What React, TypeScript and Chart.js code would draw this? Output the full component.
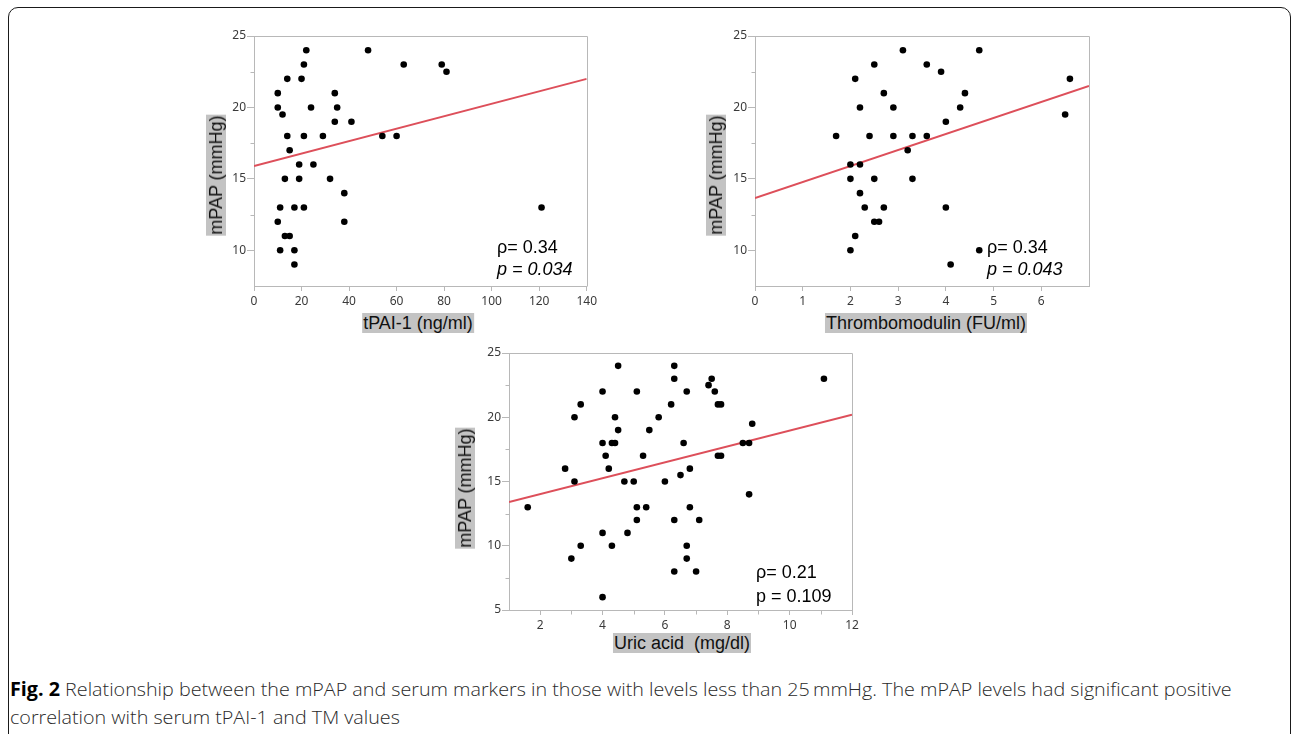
import React, { useEffect, useLayoutEffect, useRef, useState } from "react";
import { Chart, registerables } from "chart.js";

Chart.register(...registerables);

// ---------- data ----------
const mpapTicks = [10, 15, 20, 25];
const mpapMinor = [12.5, 17.5, 22.5];

const tpaiX = [10, 10, 12, 14, 14, 15, 10, 11, 11, 13, 13, 15, 17, 17, 17, 19, 19, 20, 21, 22, 21, 21, 24, 25, 29, 32, 34, 35, 34, 38, 38, 41, 48, 54, 60, 63, 79, 81, 121];
const tpaiY = [21, 20, 19.5, 22, 18, 17, 12, 13, 10, 15, 11, 11, 13, 10, 9, 16, 15, 22, 23, 24, 18, 13, 20, 16, 18, 15, 21, 20, 19, 14, 12, 19, 24, 18, 18, 23, 23, 22.5, 13];
const tpaiFitX = [0, 140];
const tpaiFitY = [15.9, 22.0];
const tpaiTicks = [0, 20, 40, 60, 80, 100, 120, 140];

const tmX = [1.7, 2.0, 2.0, 2.0, 2.1, 2.1, 2.2, 2.2, 2.2, 2.3, 2.4, 2.5, 2.5, 2.5, 2.6, 2.7, 2.7, 2.9, 2.9, 3.1, 3.2, 3.3, 3.3, 3.6, 3.6, 3.9, 4.0, 4.0, 4.1, 4.3, 4.4, 4.7, 4.7, 6.5, 6.6];
const tmY = [18, 16, 15, 10, 22, 11, 20, 16, 14, 13, 18, 23, 15, 12, 12, 21, 13, 20, 18, 24, 17, 18, 15, 23, 18, 22.5, 19, 13, 9, 20, 21, 24, 10, 19.5, 22];
const tmFitX = [0, 7];
const tmFitY = [13.65, 21.5];
const tmTicks = [0, 1, 2, 3, 4, 5, 6];

const uricX = [1.6, 2.8, 3.0, 3.1, 3.1, 3.3, 3.3, 4.0, 4.0, 4.0, 4.0, 4.1, 4.2, 4.3, 4.3, 4.4, 4.4, 4.5, 4.5, 4.7, 4.8, 5.0, 5.1, 5.1, 5.1, 5.3, 5.4, 5.5, 5.8, 6.0, 6.2, 6.3, 6.3, 6.3, 6.3, 6.5, 6.6, 6.7, 6.7, 6.7, 6.8, 6.8, 7.0, 7.1, 7.4, 7.5, 7.6, 7.7, 7.8, 7.7, 7.8, 8.5, 8.7, 8.7, 8.8, 11.1];
const uricY = [13, 16, 9, 20, 15, 21, 10, 22, 18, 11, 6, 17, 16, 18, 10, 20, 18, 24, 19, 15, 11, 15, 22, 13, 12, 17, 13, 19, 20, 15, 21, 24, 23, 12, 8, 15.5, 18, 22, 10, 9, 16, 13, 8, 12, 22.5, 23, 22, 21, 21, 17, 17, 18, 18, 14, 19.5, 23];
const uricFitX = [1, 12];
const uricFitY = [13.4, 20.2];
const uricTicks = [2, 4, 6, 8, 10, 12];
const uricMinorX = [3, 5, 7, 9, 11];
const uricYTicks = [5, 10, 15, 20, 25];
const uricMinorY = [7.5, 12.5, 17.5, 22.5];

const yTitle = "mPAP (mmHg)";
const captionBold = "Fig. 2";
const captionLine1 = " Relationship between the mPAP and serum markers in those with levels less than 25\u2009mmHg. The mPAP levels had significant positive";
const captionLine2 = "correlation with serum tPAI-1 and TM values";

// ---------- styles ----------
const AXIS = "#b8b8b8";
const RED = "#dd4f5a";
const TICK_FONT = { family: "'Noto Sans', 'Open Sans', sans-serif", size: 12 };
const TICK_COLOR = "#3a3a3a";
const TITLE_BG = "#c3c3c3";
const TEXT_FONT = "'Liberation Sans', Arial, sans-serif";

const framePlugin = {
  id: "frameMinor",
  afterDraw(chart: any, _args: any, opts: any) {
    const { ctx, chartArea } = chart;
    const { left, right, top, bottom } = chartArea;
    const a = (v: number) => Math.round(v) + 0.5;
    ctx.save();
    ctx.strokeStyle = AXIS;
    ctx.lineWidth = 1;
    ctx.beginPath();
    ctx.moveTo(a(left), a(top));
    ctx.lineTo(a(right), a(top));
    ctx.lineTo(a(right), a(bottom));
    const xs = chart.scales.x;
    const ys = chart.scales.y;
    (opts.minorX || []).forEach((v: number) => {
      const px = a(xs.getPixelForValue(v));
      ctx.moveTo(px, a(bottom));
      ctx.lineTo(px, a(bottom) + 4);
    });
    (opts.minorY || []).forEach((v: number) => {
      const py = a(ys.getPixelForValue(v));
      ctx.moveTo(a(left), py);
      ctx.lineTo(a(left) - 4, py);
    });
    ctx.stroke();
    ctx.restore();
  },
};

type PanelProps = {
  left: number;
  top: number;
  width: number;
  height: number;
  padTop: number;
  padRight: number;
  yAxisW: number;
  xAxisH: number;
  xs: number[];
  ys: number[];
  fitX: number[];
  fitY: number[];
  xMin: number;
  xMax: number;
  yMin: number;
  yMax: number;
  xTicks: number[];
  yTicks: number[];
  minorX: number[];
  minorY: number[];
};

function Panel(p: PanelProps) {
  const ref = useRef<HTMLCanvasElement>(null);
  useEffect(() => {
    if (!ref.current) return;
    const points = p.xs.map((x, i) => ({ x, y: p.ys[i] }));
    const fit = p.fitX.map((x, i) => ({ x, y: p.fitY[i] }));
    const chart = new Chart(ref.current, {
      type: "scatter",
      data: {
        datasets: [
          {
            data: fit,
            showLine: true,
            borderColor: RED,
            borderWidth: 2,
            pointRadius: 0,
            fill: false,
            order: 2,
          },
          {
            data: points,
            backgroundColor: "#000",
            borderColor: "#000",
            borderWidth: 0,
            pointRadius: 3.3,
            order: 1,
          },
        ],
      },
      options: {
        animation: false,
        responsive: false,
        devicePixelRatio: 1,
        events: [],
        layout: { padding: { top: p.padTop, right: p.padRight, left: 0, bottom: 0 } },
        plugins: {
          legend: { display: false },
          tooltip: { enabled: false },
          frameMinor: { minorX: p.minorX, minorY: p.minorY },
        } as any,
        scales: {
          x: {
            type: "linear",
            min: p.xMin,
            max: p.xMax,
            afterBuildTicks: (s: any) => {
              s.ticks = p.xTicks.map((v) => ({ value: v }));
            },
            afterFit: (s: any) => {
              s.height = p.xAxisH;
            },
            grid: { display: true, drawOnChartArea: false, drawTicks: true, tickLength: 5, color: AXIS },
            border: { display: true, color: AXIS, width: 1 },
            ticks: { font: TICK_FONT, color: TICK_COLOR, padding: 3, maxRotation: 0, autoSkip: false },
          },
          y: {
            type: "linear",
            min: p.yMin,
            max: p.yMax,
            afterBuildTicks: (s: any) => {
              s.ticks = p.yTicks.map((v) => ({ value: v }));
            },
            afterFit: (s: any) => {
              s.width = p.yAxisW;
            },
            grid: { display: true, drawOnChartArea: false, drawTicks: true, tickLength: 7, color: AXIS },
            border: { display: true, color: AXIS, width: 1 },
            ticks: { font: TICK_FONT, color: TICK_COLOR, padding: 1, autoSkip: false },
          },
        },
      },
      plugins: [framePlugin as any],
    });
    return () => chart.destroy();
  }, []);
  return (
    <canvas
      ref={ref}
      width={p.width}
      height={p.height}
      style={{ position: "absolute", left: p.left, top: p.top, width: p.width, height: p.height }}
    />
  );
}

function XTitle({ cx, cy, text }: { cx: number; cy: number; text: string }) {
  return (
    <div
      style={{
        position: "absolute",
        left: cx,
        top: cy,
        transform: "translate(-50%, -50%)",
        background: TITLE_BG,
        font: `18px ${TEXT_FONT}`,
        lineHeight: "20px",
        padding: "0 1px",
        whiteSpace: "pre",
        color: "#111",
      }}
    >
      {text}
    </div>
  );
}

function YTitle({ cx, cy, text }: { cx: number; cy: number; text: string }) {
  return (
    <div
      style={{
        position: "absolute",
        left: cx,
        top: cy,
        transform: "translate(-50%, -50%) rotate(-90deg)",
        background: TITLE_BG,
        font: `18px ${TEXT_FONT}`,
        lineHeight: "20px",
        padding: "0 1px",
        whiteSpace: "pre",
        color: "#111",
      }}
    >
      {text}
    </div>
  );
}

function Stat({ x, cy, text, italic }: { x: number; cy: number; text: string; italic?: boolean }) {
  return (
    <div
      style={{
        position: "absolute",
        left: x,
        top: cy - 11,
        font: `${italic ? "italic " : ""}18px ${TEXT_FONT}`,
        lineHeight: "22px",
        whiteSpace: "pre",
        color: "#000",
      }}
    >
      {text}
    </div>
  );
}

export default function App() {
  const line1Ref = useRef<HTMLSpanElement>(null);
  const [scale, setScale] = useState(1);
  useLayoutEffect(() => {
    const fitNow = () => {
      if (line1Ref.current) {
        const w = line1Ref.current.offsetWidth;
        if (w > 0) setScale(1222 / w);
      }
    };
    fitNow();
    if ((document as any).fonts && (document as any).fonts.ready) {
      (document as any).fonts.ready.then(fitNow);
    }
  }, []);

  const capStyle: React.CSSProperties = {
    position: "absolute",
    left: 10,
    display: "inline-block",
    whiteSpace: "pre",
    fontFamily: "'Open Sans', 'Noto Sans', sans-serif",
    fontSize: 19,
    fontWeight: 300,
    lineHeight: "24px",
    color: "#2a2a2a",
    transformOrigin: "0 50%",
    transform: `scaleX(${scale})`,
  };

  return (
    <div
      style={{
        position: "fixed",
        left: 0,
        top: 0,
        width: 1292,
        height: 734,
        overflow: "hidden",
        background: "#fff",
      }}
    >
      <div
        style={{
          position: "absolute",
          left: 8,
          top: 7,
          width: 1281,
          height: 760,
          border: "1.5px solid #1a1a1a",
          borderRadius: 10,
        }}
      />

      <Panel
        left={200} top={20} width={400} height={320}
        padTop={16} padRight={11} yAxisW={54} xAxisH={54}
        xs={tpaiX} ys={tpaiY} fitX={tpaiFitX} fitY={tpaiFitY}
        xMin={0} xMax={140} yMin={7.5} yMax={25}
        xTicks={tpaiTicks} yTicks={mpapTicks} minorX={[]} minorY={mpapMinor}
      />
      <Panel
        left={700} top={20} width={400} height={320}
        padTop={16} padRight={11} yAxisW={55} xAxisH={54}
        xs={tmX} ys={tmY} fitX={tmFitX} fitY={tmFitY}
        xMin={0} xMax={7} yMin={7.5} yMax={25}
        xTicks={tmTicks} yTicks={mpapTicks} minorX={[]} minorY={mpapMinor}
      />
      <Panel
        left={450} top={340} width={420} height={320}
        padTop={13} padRight={18} yAxisW={59} xAxisH={50}
        xs={uricX} ys={uricY} fitX={uricFitX} fitY={uricFitY}
        xMin={1} xMax={12} yMin={5} yMax={25}
        xTicks={uricTicks} yTicks={uricYTicks} minorX={uricMinorX} minorY={uricMinorY}
      />

      <YTitle cx={216} cy={175} text={yTitle} />
      <XTitle cx={418} cy={323} text={"tPAI-1 (ng/ml)"} />
      <Stat x={497} cy={247} text={"\u03c1= 0.34"} />
      <Stat x={497} cy={269} text={"p = 0.034"} italic />

      <YTitle cx={716} cy={175} text={yTitle} />
      <XTitle cx={926} cy={323} text={"Thrombomodulin (FU/ml)"} />
      <Stat x={987} cy={247} text={"\u03c1= 0.34"} />
      <Stat x={987} cy={269} text={"p = 0.043"} italic />

      <YTitle cx={465} cy={488} text={yTitle} />
      <XTitle cx={682} cy={643} text={"Uric acid  (mg/dl)"} />
      <Stat x={756} cy={572} text={"\u03c1= 0.21"} />
      <Stat x={756} cy={596} text={"p = 0.109"} />

      <span ref={line1Ref} style={{ ...capStyle, top: 677 }}>
        <b style={{ color: "#000", fontWeight: 700 }}>{captionBold}</b>
        {captionLine1}
      </span>
      <span style={{ ...capStyle, top: 705 }}>{captionLine2}</span>
    </div>
  );
}
